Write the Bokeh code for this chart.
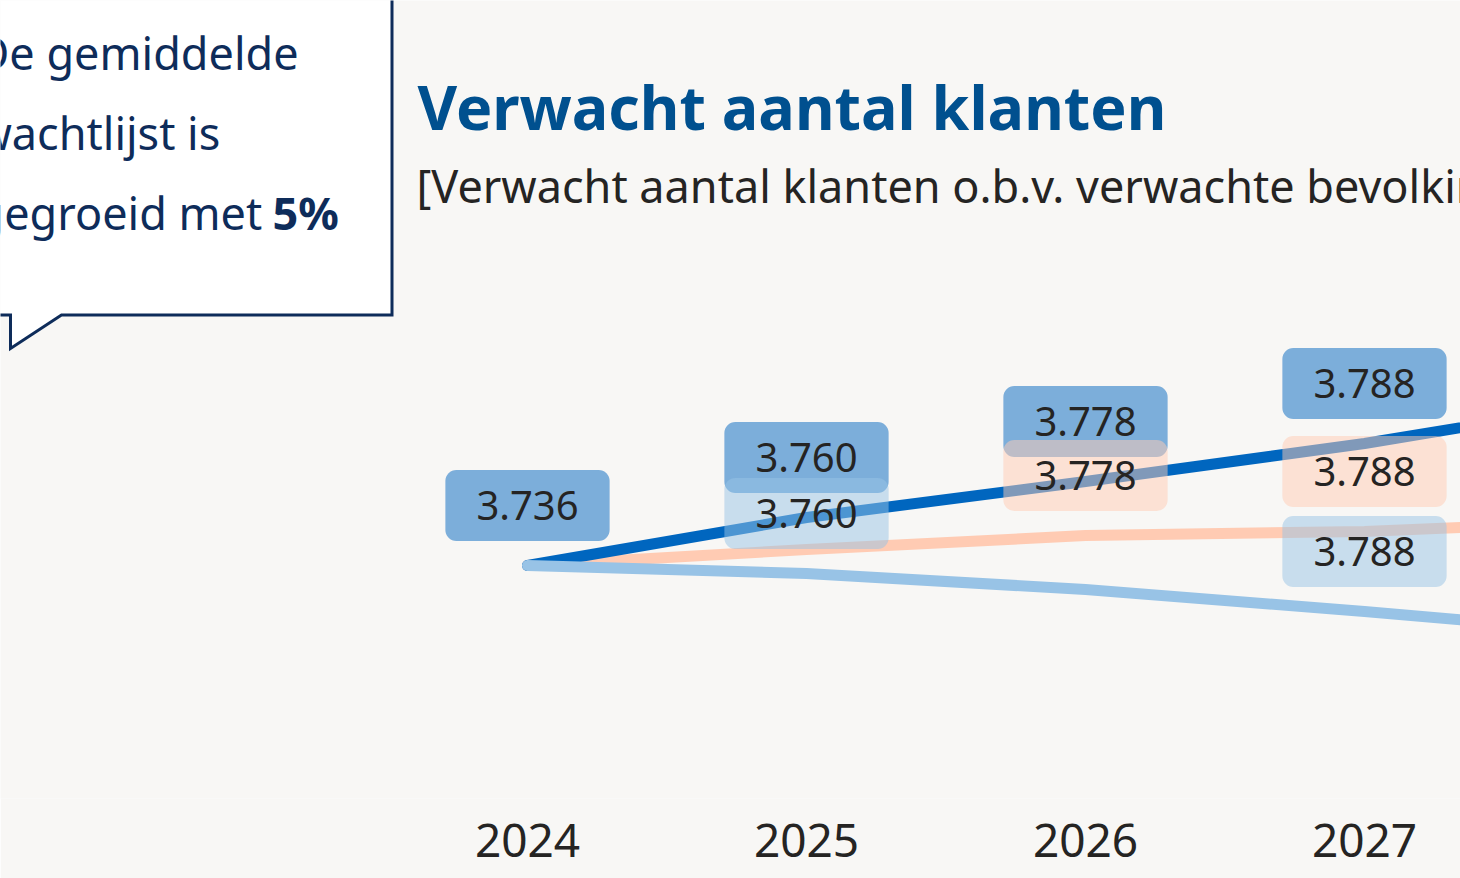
from bokeh.plotting import figure
from bokeh.models import Label, FixedTicker, Range1d
from bokeh.embed import file_html
from bokeh.resources import INLINE
from bokeh.core.properties import value

# ---------------- data ----------------
years = [2024, 2025, 2026, 2027, 2028]
year_labels = ["2024", "2025", "2026", "2027", "2028"]
hoog = [3736, 3760, 3778, 3797, 3820]      # dark blue scenario
midden = [3736, 3744, 3751, 3753, 3759]    # orange scenario
laag = [3736, 3732, 3724, 3713, 3701]      # light blue scenario
label_years = [2024, 2025, 2026, 2027]
label_texts = ["3.736", "3.760", "3.778", "3.788"]
hoog_label_years = [2024, 2025, 2026, 2027]
midden_label_years = [2026, 2027]
laag_label_years = [2025, 2027]

title_text = "Verwacht aantal klanten"
subtitle_text = "[Verwacht aantal klanten o.b.v. verwachte bevolkingsgroei]"
callout_lines = ["De gemiddelde", "wachtlijst is", "gegroeid met "]
callout_bold = "5%"

# ---------------- styling / geometry ----------------
BG = "#F8F7F5"
C_DARK = "#0066BF"
C_ORANGE = "#FFCBB3"
C_LIGHT = "#98C3E6"
NAVY = "#0E2C5A"
TXT = "#252423"
FONT = "Noto Sans"

W, H = 1460, 878
X0_PX, PX_PER_YEAR = 527, 279.0
Y0_PX, PX_PER_UNIT = 565, 2.0
FRAME_BOTTOM = 798
BASE_YEAR, BASE_VAL = years[0], hoog[0]

x_start = BASE_YEAR - X0_PX / PX_PER_YEAR
x_end = BASE_YEAR + (W - X0_PX) / PX_PER_YEAR
y_end = BASE_VAL + Y0_PX / PX_PER_UNIT
y_start = BASE_VAL - (FRAME_BOTTOM - Y0_PX) / PX_PER_UNIT


def dx(px):
    return x_start + px / PX_PER_YEAR


def dy(py):
    return y_end - py / PX_PER_UNIT


p = figure(width=W, height=H, output_backend="svg", toolbar_location=None,
           x_range=Range1d(x_start, x_end), y_range=Range1d(y_start, y_end),
           y_axis_location=None, min_border=0, min_border_bottom=H - FRAME_BOTTOM)
p.background_fill_color = BG
p.border_fill_color = BG
p.outline_line_color = None
p.grid.visible = False

ax = p.xaxis[0]
ax.ticker = FixedTicker(ticks=years)
ax.major_label_overrides = {y: l for y, l in zip(years, year_labels)}
ax.axis_line_color = None
ax.major_tick_line_color = None
ax.minor_tick_line_color = None
ax.major_label_text_font = FONT
ax.major_label_text_font_size = "46px"
ax.major_label_text_color = TXT
ax.major_label_standoff = 19

# callout box
bx = [dx(v) for v in [-60, 391.5, 391.5, 61, 10, 10, -60]]
by = [dy(v) for v in [-60, -60, 314.5, 314.5, 348, 314.5, 314.5]]
p.patch(bx, by, fill_color="white", line_color=NAVY, line_width=3, line_join="miter")
for i, t in enumerate(callout_lines):
    p.add_layout(Label(x=dx(-24), y=dy(52 + 80 * i), text=t, text_font=FONT,
                       text_font_size="45px", text_color=NAVY, text_baseline="alphabetic"))
p.add_layout(Label(x=dx(272), y=dy(212), text=callout_bold, text_font=FONT, text_font_style="bold",
                   text_font_size="45px", text_color=NAVY, text_baseline="alphabetic"))

# title & subtitle
p.add_layout(Label(x=dx(417), y=dy(106), text=title_text, text_font=FONT, text_font_style="bold",
                   text_font_size="61px", text_color="#00508F", text_baseline="alphabetic"))
p.add_layout(Label(x=dx(416), y=dy(185), text=subtitle_text, text_font=FONT,
                   text_font_size="45px", text_color=TXT, text_baseline="alphabetic"))

# lines
p.line(years, midden, line_color=C_ORANGE, line_width=11, line_cap="round", line_join="round")
p.line(years, hoog, line_color=C_DARK, line_width=11, line_cap="round", line_join="round")
p.line(years, laag, line_color=C_LIGHT, line_width=11, line_cap="round", line_join="round")


def labels_for(series, sel_years, color):
    xs = [y for y in sel_years]
    ys = [series[years.index(y)] for y in sel_years]
    ts = [label_texts[label_years.index(y)] for y in sel_years]
    p.text(x=xs, y=ys, text=ts, y_offset=-60, text_align="center", text_baseline="middle",
           text_font=value(FONT), text_font_size="40px", text_color=TXT,
           background_fill_color=color, background_fill_alpha=0.5,
           border_radius=11, padding=(31, 21))


labels_for(hoog, hoog_label_years, C_DARK)
labels_for(midden, midden_label_years, C_ORANGE)
labels_for(laag, laag_label_years, C_LIGHT)

open("out.html", "w").write(file_html(p, INLINE))
